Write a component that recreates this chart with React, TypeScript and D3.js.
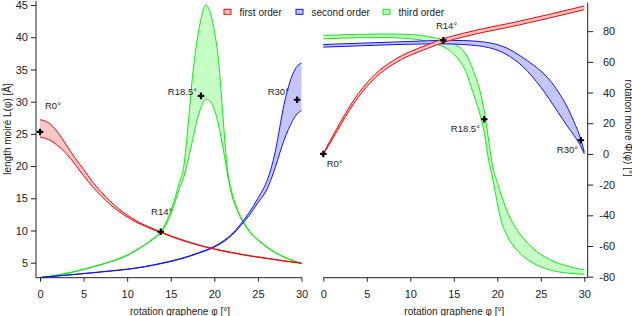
import React, { useEffect, useRef } from 'react'
import * as d3 from 'd3'

// first order: same phi grid for both panels
const firstOrderPhi = [0, 1, 2, 3, 4, 5, 6, 7, 8, 9, 10, 11, 12, 13, 14, 16, 18, 20, 22, 24, 26, 28, 30]
const firstOrderLengthHi = [27.2, 26.7, 25.3, 23.3, 21.3, 19.5, 17.6, 16.0, 14.6, 13.4, 12.4, 11.55, 10.85, 10.25, 9.7, 8.7, 7.85, 7.15, 6.6, 6.1, 5.7, 5.3, 4.95]
const firstOrderLengthLo = [24.5, 24.1, 23.2, 21.95, 20.3, 18.5, 16.85, 15.4, 14.1, 13.0, 12.1, 11.3, 10.7, 10.1, 9.6, 8.6, 7.78, 7.08, 6.53, 6.05, 5.65, 5.25, 4.9]
const firstOrderAngleHi = [0.3, 10.8, 21.0, 30.6, 39.2, 46.2, 52.2, 56.9, 60.7, 64.0, 66.7, 69.0, 71.2, 73.4, 75.4, 78.5, 81.2, 83.5, 85.8, 88.4, 91.0, 93.7, 96.4]
const firstOrderAngleLo = [-0.3, 9.2, 19.0, 28.4, 36.8, 43.8, 49.8, 54.5, 58.3, 61.6, 64.3, 66.6, 68.8, 71.0, 73.0, 76.1, 78.8, 81.1, 83.4, 86.0, 88.6, 91.3, 94.0]

// second order
const secondOrderLengthPhi = [0, 2, 4, 6, 8, 10, 12, 14, 16, 18, 19, 20, 21, 22, 23, 24, 25, 26, 26.5, 27, 27.5, 28, 28.5, 29, 29.5, 30]
const secondOrderLengthHi = [2.7, 2.95, 3.2, 3.45, 3.72, 4.0, 4.4, 4.95, 5.6, 6.45, 6.95, 7.55, 8.35, 9.45, 10.95, 12.8, 15.0, 17.6, 19.6, 22.3, 26.0, 29.6, 32.3, 34.3, 35.5, 36.0]
const secondOrderLengthLo = [2.68, 2.93, 3.17, 3.42, 3.68, 3.96, 4.35, 4.88, 5.52, 6.37, 6.85, 7.42, 8.2, 9.25, 10.7, 12.35, 14.3, 16.3, 17.9, 19.8, 22.0, 24.0, 25.7, 27.1, 28.1, 28.6]
const secondOrderAnglePhi = [0, 2, 4, 6, 8, 10, 12, 14, 16, 18, 19, 20, 21, 22, 23, 24, 25, 26, 27, 28, 28.5, 29, 29.5, 30]
const secondOrderAngleHi = [71.3, 71.7, 72.1, 72.5, 72.9, 73.3, 73.7, 74.0, 73.9, 73.2, 72.5, 71.2, 69.2, 66.2, 62.5, 58.5, 54.0, 48.3, 40.5, 31.0, 25.0, 18.5, 11.5, 1.0]
const secondOrderAngleLo = [69.6, 70.0, 70.4, 70.8, 71.2, 71.5, 71.7, 71.7, 71.3, 70.3, 69.3, 67.6, 65.0, 61.3, 56.6, 50.5, 43.5, 35.5, 27.0, 18.5, 14.5, 10.5, 6.0, 0.0]

// third order
const thirdOrderPhi = [0, 2, 4, 6, 8, 10, 11, 12, 13, 14, 15, 16, 16.5, 17, 17.5, 18, 18.5, 19, 19.5, 20, 20.5, 21, 21.5, 22, 22.5, 23, 24, 25, 26, 27, 28, 29, 30]
const thirdOrderLengthHi = [2.7, 3.1, 3.65, 4.35, 5.15, 6.2, 6.95, 7.8, 8.8, 10.1, 13.0, 17.5, 20.0, 26.5, 34.0, 39.3, 43.0, 45.0, 44.0, 41.0, 36.2, 27.5, 19.5, 16.0, 13.8, 12.2, 10.0, 8.6, 7.5, 6.6, 5.9, 5.35, 4.9]
const thirdOrderLengthLo = [2.68, 3.05, 3.6, 4.3, 5.1, 6.1, 6.85, 7.7, 8.65, 9.9, 12.5, 16.5, 18.3, 21.0, 24.0, 27.0, 29.2, 30.4, 30.1, 28.8, 26.3, 22.8, 18.8, 15.5, 13.5, 12.0, 9.85, 8.5, 7.4, 6.55, 5.85, 5.3, 4.85]
const thirdOrderAngleHi = [77.2, 77.6, 77.9, 78.1, 78.1, 77.8, 77.4, 76.6, 75.4, 74.3, 71.8, 67.8, 63.8, 57.8, 50.3, 41.2, 28.0, 9.0, -9.0, -18.5, -27.5, -35.5, -42.0, -47.0, -51.5, -55.0, -61.0, -65.5, -68.8, -71.2, -73.0, -74.5, -75.6]
const thirdOrderAngleLo = [75.0, 75.4, 75.7, 75.8, 75.7, 75.0, 74.4, 73.3, 71.6, 69.3, 65.0, 57.8, 52.0, 43.5, 35.0, 26.0, 14.0, -4.0, -17.0, -32.0, -44.5, -52.0, -57.0, -61.0, -64.2, -66.8, -70.8, -73.6, -75.5, -76.8, -77.6, -78.1, -78.4]

const xTicks = [0, 5, 10, 15, 20, 25, 30]
const lengthTicks = [5, 10, 15, 20, 25, 30, 35, 40, 45]
const angleTicks = [-80, -60, -40, -20, 0, 20, 40, 60, 80]

const orderNames = ['first order', 'second order', 'third order']
const orderColors = ['#ff0000', '#1010ff', '#14e614']
const orderFills = ['#ffc6c6', '#c6c6ff', '#c6ffc6']

const markerLabels = ['R0°', 'R14°', 'R18.5°', 'R30°']
const lengthMarkerPhi = [0, 13.85, 18.47, 29.5]
const lengthMarkerValue = [25.3, 9.8, 30.9, 30.3]
const angleMarkerPhi = [0, 13.8, 18.5, 29.6]
const angleMarkerValue = [0, 74, 22.6, 8.9]

type Band = { phi: number[]; hi: number[]; lo: number[] }

const App: React.FC = () => {
  const svgRef = useRef<SVGSVGElement>(null)

  useEffect(() => {
    if (!svgRef.current) return
    const svg = d3.select(svgRef.current)
    svg.selectAll('*').remove()

    const font = '"Liberation Sans", Arial, sans-serif'
    const ink = '#222'
    const axisY = 277.7

    const xL = d3.scaleLinear().domain([0, 30]).range([40, 301.5])
    const yL = d3.scaleLinear().domain([2.67, 45.6]).range([axisY, 1.2])
    const xR = d3.scaleLinear().domain([0, 30]).range([323.3, 584.3])
    const yR = d3.scaleLinear().domain([-80.65, 98.6]).range([axisY, 2.6])

    const lengthBands: Band[] = [
      { phi: firstOrderPhi, hi: firstOrderLengthHi, lo: firstOrderLengthLo },
      { phi: secondOrderLengthPhi, hi: secondOrderLengthHi, lo: secondOrderLengthLo },
      { phi: thirdOrderPhi, hi: thirdOrderLengthHi, lo: thirdOrderLengthLo },
    ]
    const angleBands: Band[] = [
      { phi: firstOrderPhi, hi: firstOrderAngleHi, lo: firstOrderAngleLo },
      { phi: secondOrderAnglePhi, hi: secondOrderAngleHi, lo: secondOrderAngleLo },
      { phi: thirdOrderPhi, hi: thirdOrderAngleHi, lo: thirdOrderAngleLo },
    ]

    const drawBands = (bands: Band[], x: d3.ScaleLinear<number, number>, y: d3.ScaleLinear<number, number>) => {
      const g = svg.append('g')
      // third order underneath, first order on top
      ;[2, 1, 0].forEach(k => {
        const b = bands[k]
        const idx = d3.range(b.phi.length)
        const area = d3.area<number>()
          .x(i => x(b.phi[i]))
          .y0(i => y(b.lo[i]))
          .y1(i => y(b.hi[i]))
          .curve(d3.curveMonotoneX)
        g.append('path').attr('d', area(idx)).attr('fill', orderFills[k])
        ;[b.hi, b.lo].forEach(vals => {
          const line = d3.line<number>()
            .x(i => x(b.phi[i]))
            .y(i => y(vals[i]))
            .curve(d3.curveMonotoneX)
          g.append('path')
            .attr('d', line(idx))
            .attr('fill', 'none')
            .attr('stroke', orderColors[k])
            .attr('stroke-width', 1)
        })
      })
    }

    const drawMarkers = (
      phis: number[], vals: number[],
      x: d3.ScaleLinear<number, number>, y: d3.ScaleLinear<number, number>,
      offsets: [number, number, string][]
    ) => {
      const g = svg.append('g')
      const cross = d3.symbol(d3.symbolCross, 24)
      phis.forEach((p, i) => {
        const px = x(p), py = y(vals[i])
        g.append('path').attr('d', cross()).attr('transform', `translate(${px},${py})`).attr('fill', '#000')
        g.append('text')
          .attr('x', px + offsets[i][0])
          .attr('y', py + offsets[i][1])
          .attr('text-anchor', offsets[i][2])
          .attr('font-family', font)
          .attr('font-size', 9.5)
          .attr('fill', ink)
          .text(markerLabels[i])
      })
    }

    drawBands(lengthBands, xL, yL)
    drawBands(angleBands, xR, yR)

    drawMarkers(lengthMarkerPhi, lengthMarkerValue, xL, yL,
      [[5, -23, 'start'], [-9.7, -16.3, 'start'], [-4, -0.4, 'end'], [-8.2, -5.2, 'end']])
    drawMarkers(angleMarkerPhi, angleMarkerValue, xR, yR,
      [[3.4, 13, 'start'], [-7.4, -11, 'start'], [-4.3, 12.3, 'end'], [-2.8, 13, 'end']])

    const styleAxis = (g: d3.Selection<SVGGElement, unknown, null, undefined>) => {
      g.select('.domain').remove()
      g.selectAll('line').attr('stroke', ink)
      g.selectAll('text').attr('font-family', font).attr('font-size', 11).attr('fill', ink)
    }

    // left panel axes
    svg.append('g')
      .attr('transform', `translate(0,${axisY})`)
      .call(d3.axisBottom(xL).tickValues(xTicks).tickSize(4).tickPadding(8.5).tickFormat(d3.format('d')))
      .call(styleAxis)
    svg.append('g')
      .attr('transform', 'translate(36,0)')
      .call(d3.axisLeft(yL).tickValues(lengthTicks).tickSize(5).tickPadding(3).tickFormat(d3.format('d')))
      .call(styleAxis)
    svg.append('line').attr('x1', 36).attr('x2', 302).attr('y1', axisY).attr('y2', axisY).attr('stroke', ink)
    svg.append('line').attr('x1', 36).attr('x2', 36).attr('y1', 1).attr('y2', axisY).attr('stroke', ink)

    // right panel axes
    svg.append('g')
      .attr('transform', `translate(0,${axisY})`)
      .call(d3.axisBottom(xR).tickValues(xTicks).tickSize(4).tickPadding(8.5).tickFormat(d3.format('d')))
      .call(styleAxis)
    const rightAxis = svg.append('g')
      .attr('transform', 'translate(587.7,0)')
      .call(d3.axisRight(yR).tickValues(angleTicks).tickSize(5.5).tickPadding(9.8)
        .tickFormat(d => (+d < 0 ? '-' + Math.abs(+d) : String(d))))
      .call(styleAxis)
    rightAxis.selectAll<SVGTextElement, number>('text').attr('x', d => (d < 0 ? 11.6 : 15.3))
    svg.append('line').attr('x1', 323.3).attr('x2', 587.7).attr('y1', axisY).attr('y2', axisY).attr('stroke', ink)
    svg.append('line').attr('x1', 587.7).attr('x2', 587.7).attr('y1', 2.6).attr('y2', axisY).attr('stroke', ink)

    // axis titles
    const title = (x: number, y: number, rot: number, s: string) =>
      svg.append('text')
        .attr('transform', `translate(${x},${y}) rotate(${rot})`)
        .attr('text-anchor', 'middle')
        .attr('font-family', font)
        .attr('font-size', 10)
        .attr('fill', ink)
        .text(s)
    title(180, 314.5, 0, 'rotation graphene φ [°]')
    title(454.3, 314.5, 0, 'rotation graphene φ [°]')
    title(11, 129, -90, 'length moiré L(φ) [Å]')
    title(624.5, 128, 90, 'rotation moiré Φ(φ) [°]')

    // legend
    const legendX = [224, 296, 383]
    const legend = svg.append('g')
    orderNames.forEach((name, k) => {
      legend.append('rect')
        .attr('x', legendX[k]).attr('y', 9.3).attr('width', 7).attr('height', 5)
        .attr('fill', orderFills[k]).attr('stroke', orderColors[k]).attr('stroke-width', 1)
      legend.append('text')
        .attr('x', legendX[k] + 15.5).attr('y', 15.5)
        .attr('font-family', font).attr('font-size', 10).attr('fill', ink)
        .text(name)
    })
  }, [])

  return (
    <svg ref={svgRef} width={632} height={316} style={{ position: 'absolute', left: 0, top: 0, background: '#fff' }} />
  )
}

export default App
